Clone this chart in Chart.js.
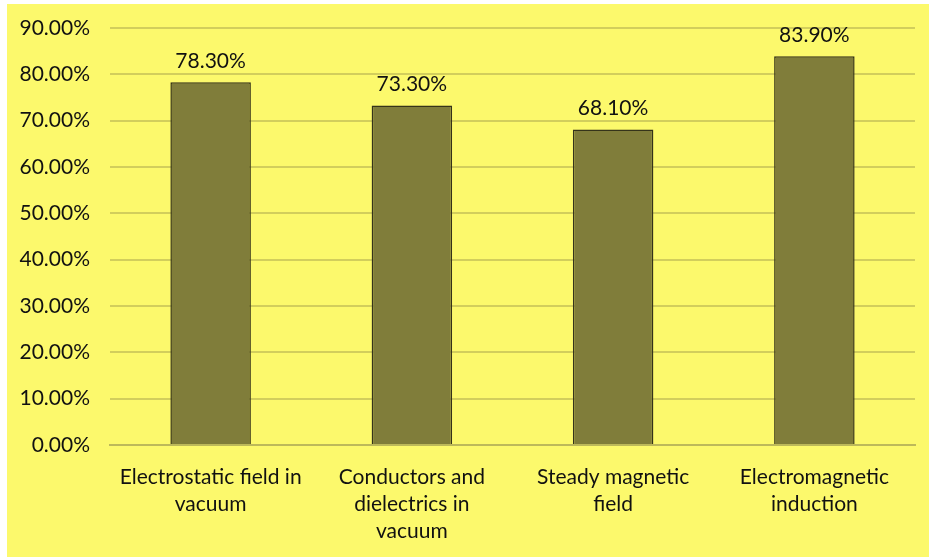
<!DOCTYPE html>
<html>
<head>
<meta charset="utf-8">
<script src="https://cdn.jsdelivr.net/npm/chart.js@4"></script>
<style>
  html, body { margin: 0; padding: 0; background: #ffffff; }
  #frame { position: absolute; left: 7px; top: 4px; width: 922px; height: 553px; background: #fcf96c; }
  canvas { display: block; }
</style>
</head>
<body>
<div id="frame"><canvas id="chart" width="922" height="553"></canvas></div>
<script>
const categories = [
    ["Electrostatic field in", "vacuum"],
    ["Conductors and", "dielectrics in", "vacuum"],
    ["Steady magnetic", "field"],
    ["Electromagnetic", "induction"]
];
const scores = [78.3, 73.3, 68.1, 83.9];
const yTicksMax = 90;
const yTicksStep = 10;

const FONT = "Lato, 'Open Sans', sans-serif";

// draw the percentage above each bar
const barLabels = {
    id: 'barLabels',
    afterDatasetsDraw(chart) {
        const ctx = chart.ctx;
        const meta = chart.getDatasetMeta(0);
        ctx.save();
        ctx.font = "21px " + FONT;
        ctx.fillStyle = '#111111';
        ctx.textAlign = 'center';
        ctx.textBaseline = 'alphabetic';
        meta.data.forEach((bar, i) => {
            ctx.fillText(scores[i].toFixed(2) + '%', bar.x, bar.y - 14);
        });
        ctx.restore();
    }
};

new Chart(document.getElementById('chart'), {
    type: 'bar',
    data: {
        labels: categories,
        datasets: [{
            data: scores,
            backgroundColor: '#807d3a',
            borderColor: '#35331a',
            borderWidth: 1.5,
            barPercentage: 0.8,
            categoryPercentage: 0.5
        }]
    },
    options: {
        responsive: false,
        animation: false,
        layout: { padding: { top: 24, right: 14, left: 0, bottom: 0 } },
        scales: {
            x: {
                grid: { display: false, drawTicks: false },
                border: { display: true, color: '#bdb95a', width: 2 },
                ticks: { color: '#111111', font: { family: FONT, size: 21, lineHeight: 1.29 }, padding: 19, maxRotation: 0, autoSkip: false },
                afterFit(scale) { scale.height = 112; scale.paddingLeft = 0; scale.paddingRight = 0; }
            },
            y: {
                min: 0,
                max: yTicksMax,
                grid: { color: '#d2ce5c', lineWidth: 2, drawTicks: false },
                border: { display: false },
                ticks: {
                    stepSize: yTicksStep,
                    color: '#111111',
                    padding: 20,
                    font: { family: FONT, size: 21 },
                    callback: v => v.toFixed(2) + '%'
                },
                afterFit(scale) { scale.width = 103; scale.paddingTop = 0; scale.paddingBottom = 0; }
            }
        },
        plugins: { legend: { display: false }, tooltip: { enabled: false } }
    },
    plugins: [barLabels]
});
</script>
</body>
</html>
